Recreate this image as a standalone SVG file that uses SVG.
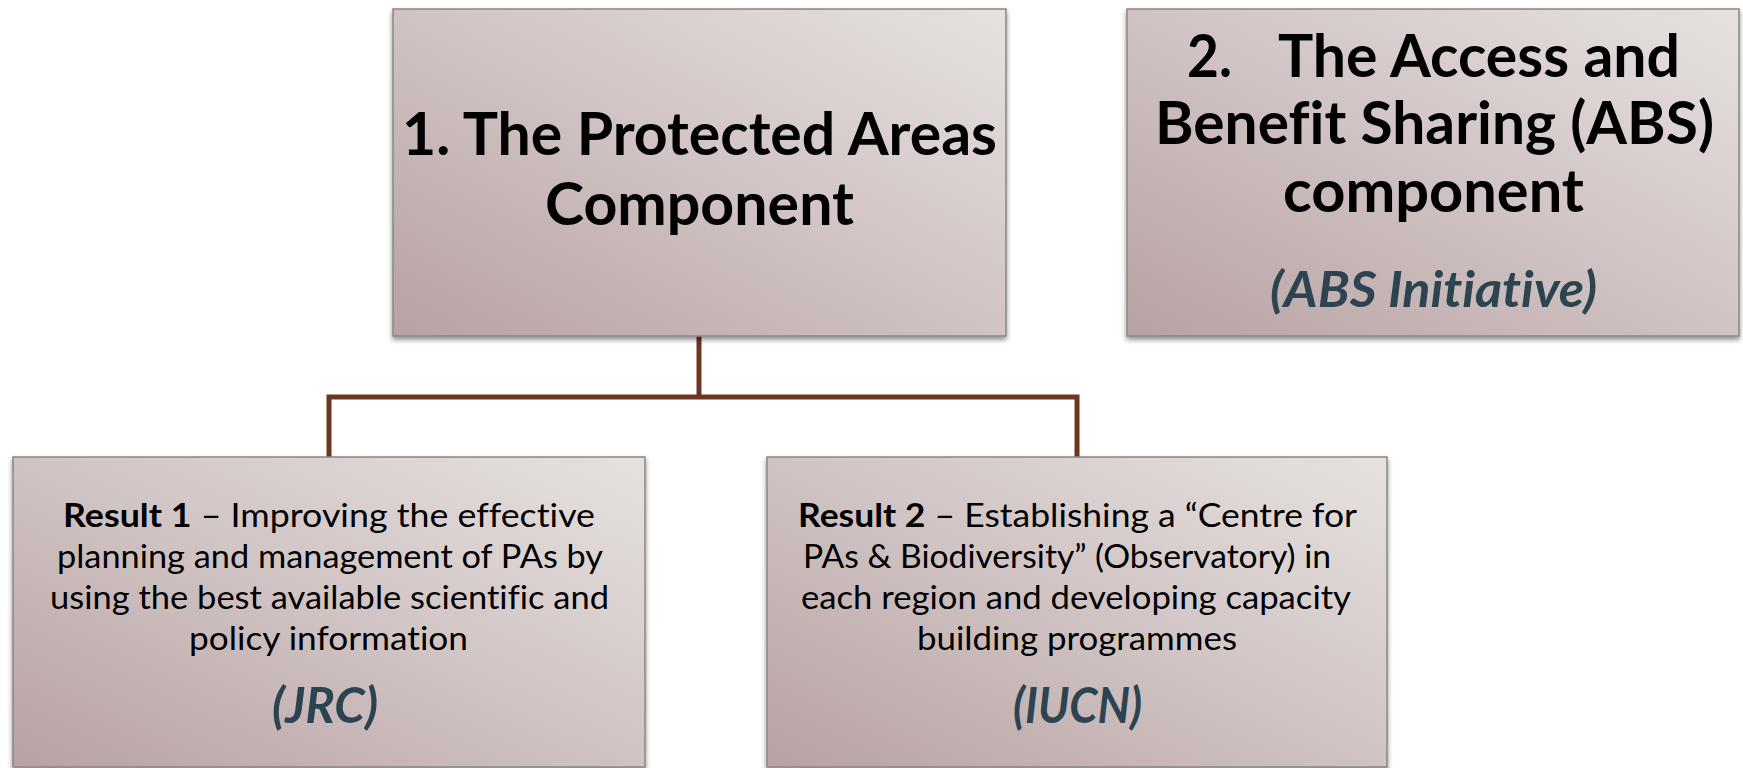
<svg xmlns="http://www.w3.org/2000/svg" width="1743" height="768" viewBox="0 0 1743 768">
<defs>
<linearGradient id="g" x1="0" y1="1" x2="1" y2="0">
<stop offset="0" stop-color="#b8a1a2"/>
<stop offset="0.5" stop-color="#d0c3c3"/>
<stop offset="1" stop-color="#e6e2e0"/>
</linearGradient>
<filter id="sh" x="-5%" y="-5%" width="110%" height="115%">
<feDropShadow dx="0" dy="3" stdDeviation="2.5" flood-color="#000" flood-opacity="0.45"/>
</filter>
</defs>
<style>
text{font-variant-ligatures:none}
.box{fill:url(#g);stroke:#8a8686;stroke-width:1.5;filter:url(#sh)}
.h{font-family:Lato,"Open Sans",sans-serif;font-weight:bold;font-size:59px;fill:#000}
.b{font-family:Lato,"Open Sans",sans-serif;font-size:33px;fill:#000}
.bb{font-weight:bold}
.lab{font-family:Lato,"Open Sans",sans-serif;font-weight:bold;font-style:italic;font-size:49px;fill:#2b4450}
.conn{fill:none;stroke:#6b3720;stroke-width:5;stroke-linejoin:miter}
</style>
<rect width="1743" height="768" fill="#ffffff"/>
<g id="connectors">
<path class="conn" d="M699 336 V397 M329 457 V397 H1077 V457"/>
</g>
<g id="node-pa">
<rect class="box" x="393" y="9" width="613" height="327"/>
<text class="h" x="699.5" y="155" text-anchor="middle" textLength="595" lengthAdjust="spacingAndGlyphs">1. The Protected Areas</text>
<text class="h" x="699.5" y="225" text-anchor="middle" textLength="309" lengthAdjust="spacingAndGlyphs">Component</text>
</g>
<g id="node-abs">
<rect class="box" x="1127" y="9" width="612" height="327"/>
<text class="h" x="1187" y="77" textLength="45" lengthAdjust="spacingAndGlyphs">2.</text>
<text class="h" x="1278" y="77" textLength="402" lengthAdjust="spacingAndGlyphs">The Access and</text>
<text class="h" x="1434.5" y="144" text-anchor="middle" textLength="559" lengthAdjust="spacingAndGlyphs">Benefit Sharing (ABS)</text>
<text class="h" x="1433.5" y="212" text-anchor="middle" textLength="301" lengthAdjust="spacingAndGlyphs">component</text>
<text class="lab" x="1433.5" y="307" text-anchor="middle" textLength="327" lengthAdjust="spacingAndGlyphs">(ABS Initiative)</text>
</g>
<g id="node-r1">
<rect class="box" x="13" y="457" width="632" height="310"/>
<text class="b" x="329" y="527" text-anchor="middle" textLength="532" lengthAdjust="spacingAndGlyphs"><tspan class="bb">Result 1</tspan> – Improving the effective</text>
<text class="b" x="330" y="568" text-anchor="middle" textLength="546" lengthAdjust="spacingAndGlyphs">planning and management of PAs by</text>
<text class="b" x="329.5" y="609" text-anchor="middle" textLength="559" lengthAdjust="spacingAndGlyphs">using the best available scientific and</text>
<text class="b" x="328.5" y="650" text-anchor="middle" textLength="279" lengthAdjust="spacingAndGlyphs">policy information</text>
<text class="lab" x="325" y="723" text-anchor="middle" textLength="106" lengthAdjust="spacingAndGlyphs">(JRC)</text>
</g>
<g id="node-r2">
<rect class="box" x="767" y="457" width="620" height="310"/>
<text class="b" x="1077.5" y="527" text-anchor="middle" textLength="559" lengthAdjust="spacingAndGlyphs"><tspan class="bb">Result 2</tspan> – Establishing a “Centre for</text>
<text class="b" x="1067" y="568" text-anchor="middle" textLength="528" lengthAdjust="spacingAndGlyphs">PAs &amp; Biodiversity” (Observatory) in</text>
<text class="b" x="1076" y="609" text-anchor="middle" textLength="550" lengthAdjust="spacingAndGlyphs">each region and developing capacity</text>
<text class="b" x="1077" y="650" text-anchor="middle" textLength="320" lengthAdjust="spacingAndGlyphs">building programmes</text>
<text class="lab" x="1077.5" y="723" text-anchor="middle" textLength="129" lengthAdjust="spacingAndGlyphs">(IUCN)</text>
</g>
</svg>
